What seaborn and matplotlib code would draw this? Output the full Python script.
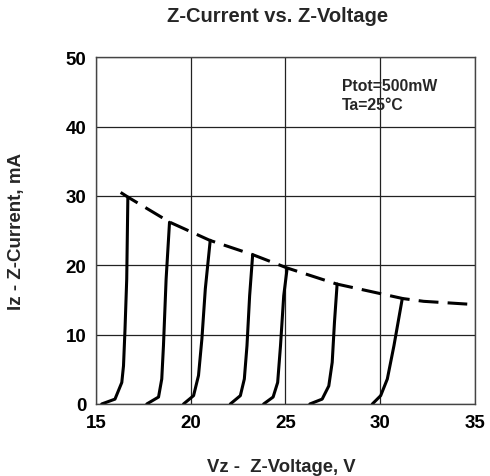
import matplotlib
matplotlib.use('Agg')
import matplotlib.pyplot as plt
import seaborn as sns

# Zener curves (Vz in V, Iz in mA)
curve_v = [
    [15.30, 16.00, 16.36, 16.45, 16.53, 16.62, 16.68],
    [17.68, 18.30, 18.47, 18.56, 18.70, 18.88],
    [19.62, 20.15, 20.41, 20.59, 20.77, 21.03],
    [22.09, 22.62, 22.83, 22.97, 23.11, 23.27],
    [23.85, 24.35, 24.59, 24.74, 24.91, 25.09],
    [26.29, 26.94, 27.29, 27.47, 27.59, 27.73],
    [29.59, 30.03, 30.38, 30.73, 31.17],
]
curve_i = [
    [0, 0.7, 3.1, 5.5, 10.8, 18.0, 29.8],
    [0, 1.0, 3.6, 8.4, 18.0, 26.2],
    [0, 1.2, 4.1, 9.4, 16.6, 23.6],
    [0, 1.2, 3.6, 8.4, 15.6, 21.5],
    [0, 1.0, 3.1, 8.4, 15.6, 19.55],
    [0, 0.7, 2.6, 6.0, 11.8, 17.3],
    [0, 1.2, 3.6, 8.4, 15.2],
]

# max power limit (dashed)
limit_v = [16.3, 16.7, 18.9, 21.0, 23.3, 25.1, 27.7, 31.2, 32.3, 34.6]
limit_i = [30.5, 29.8, 26.2, 23.6, 21.5, 19.6, 17.3, 15.2, 14.8, 14.4]

x_ticks = [15, 20, 25, 30, 35]
y_ticks = [0, 10, 20, 30, 40, 50]

sns.set_theme(style='white')
plt.rcParams['font.family'] = ['Liberation Sans', 'DejaVu Sans']

fig = plt.figure(figsize=(4.9, 4.77), dpi=100)
ax = fig.add_axes([0.196, 0.151, 0.773, 0.727])

for v, i in zip(curve_v, curve_i):
    sns.lineplot(x=v, y=i, ax=ax, color='black', linewidth=2.2,
                 sort=False, estimator=None)

sns.lineplot(x=limit_v, y=limit_i, ax=ax, color='black', linewidth=2.2,
             sort=False, estimator=None)
ax.lines[-1].set_dashes([6.5, 3])

ax.set_xlim(15, 35)
ax.set_ylim(0, 50)
ax.set_xticks(x_ticks)
ax.set_yticks(y_ticks)
ax.tick_params(length=0, labelsize=13.5, colors='black')
ax.tick_params(axis='x', pad=7.5)
ax.tick_params(axis='y', pad=7)
for lbl in ax.get_xticklabels() + ax.get_yticklabels():
    lbl.set_fontweight('bold')

ax.grid(True, color='#222222', linewidth=0.9)
for s in ax.spines.values():
    s.set_color('#444444')
    s.set_linewidth(1.0)

ax.set_title('Z-Current vs. Z-Voltage', fontsize=14.5, fontweight='bold',
             x=0.48, y=1.095, va='center')
ax.set_xlabel('Vz -  Z-Voltage, V', fontsize=13.3, fontweight='bold', va='center')
ax.set_ylabel('Iz - Z-Current, mA', fontsize=13.5, fontweight='bold', va='center')
ax.xaxis.set_label_coords(0.49, -0.18)
ax.yaxis.set_label_coords(-0.211, 0.5)

ax.text(28.0, 47.0, 'Ptot=500mW\nTa=25\u00b0C', fontsize=11.3, fontweight='bold',
        va='top', ha='left', linespacing=1.3)

fig.savefig('out.png', dpi=100)
